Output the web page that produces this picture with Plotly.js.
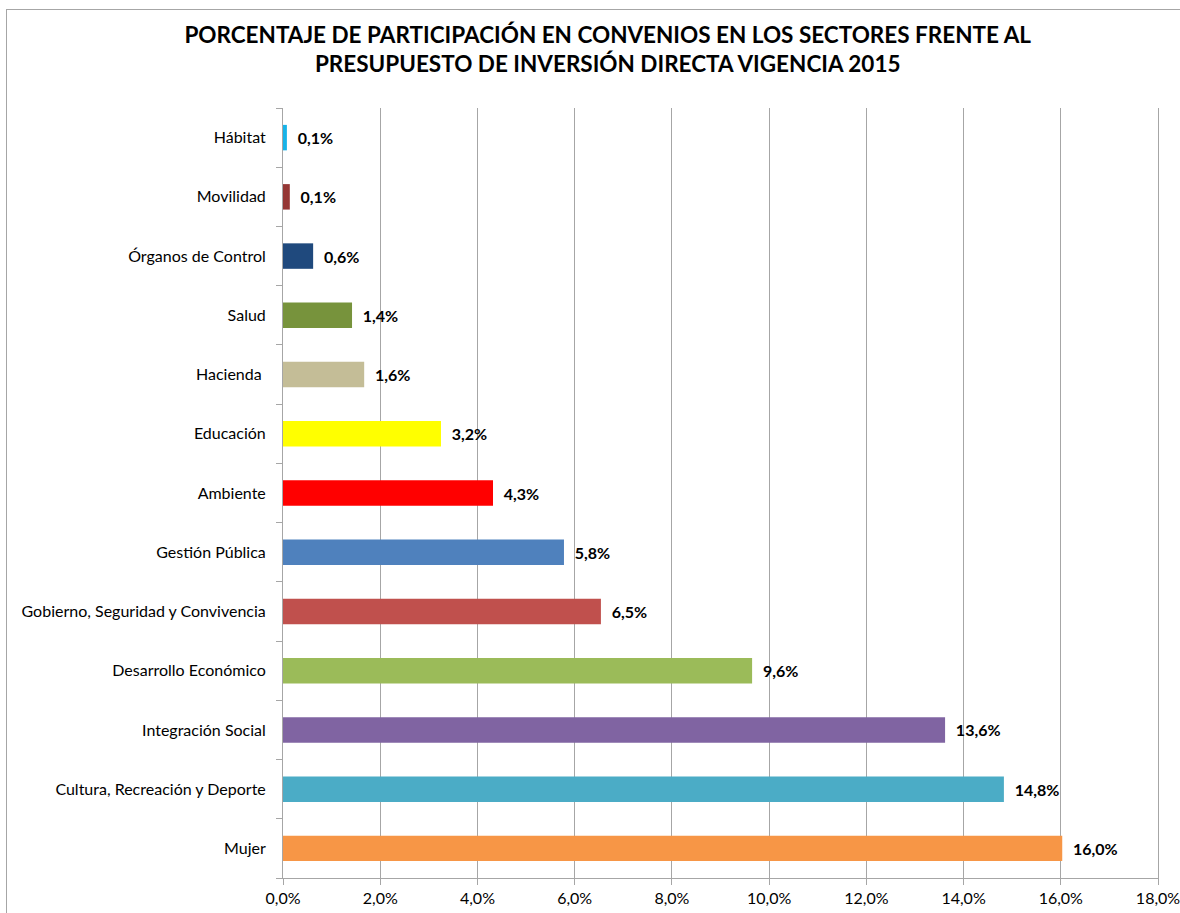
<!DOCTYPE html>
<html>
<head>
<meta charset="utf-8">
<script src="https://cdn.plot.ly/plotly-3.0.1.min.js"></script>
<style>
  body { margin: 0; background: #fff; }
  #frame { position: absolute; left: 6px; top: 9px; width: 1300px; height: 1000px;
           border-left: 1px solid #a6a6a6; border-top: 1px solid #a6a6a6; }
  #bar-chart { position: absolute; left: 0; top: 0; width: 1180px; height: 913px; }
</style>
</head>
<body>
<div id="frame"></div>
<div id="bar-chart"></div>
<script>
// sectors, bottom to top as drawn
let sectores = ['Mujer', 'Cultura, Recreación y Deporte', 'Integración Social', 'Desarrollo Económico',
  'Gobierno, Seguridad y Convivencia', 'Gestión Pública', 'Ambiente', 'Educación', 'Hacienda ',
  'Salud', 'Órganos de Control', 'Movilidad', 'Hábitat'];
let porcentajes = [16.03, 14.83, 13.62, 9.65, 6.54, 5.78, 4.32, 3.25, 1.67, 1.42, 0.62, 0.14, 0.08];
let etiquetas = ['16,0%', '14,8%', '13,6%', '9,6%', '6,5%', '5,8%', '4,3%', '3,2%', '1,6%',
  '1,4%', '0,6%', '0,1%', '0,1%'];
let colores = ['#F79646', '#4BACC6', '#8064A2', '#9BBB59', '#C0504D', '#4F81BD', '#FF0000',
  '#FFFF00', '#C4BD97', '#77933C', '#1F497D', '#953735', '#17B3E8'];

let fuente = 'Lato, "Open Sans", sans-serif';

let data = [{
  type: 'bar',
  orientation: 'h',
  x: porcentajes,
  y: sectores,
  marker: { color: colores },
  text: etiquetas.map(function(t){ return '\u00a0\u00a0' + t; }),
  textposition: 'outside',
  cliponaxis: false,
  textfont: { family: fuente, size: 16, color: '#000', weight: 'bold' },
  hoverinfo: 'none'
}];

let layout = {
  width: 1180,
  height: 913,
  margin: { l: 283, r: 22, t: 108, b: 35 },
  paper_bgcolor: 'rgba(0,0,0,0)',
  plot_bgcolor: 'rgba(0,0,0,0)',
  bargap: 0.57,
  showlegend: false,
  separators: ', ',
  title: {
    text: 'PORCENTAJE DE PARTICIPACIÓN EN CONVENIOS EN LOS SECTORES FRENTE AL<br>PRESUPUESTO DE INVERSIÓN DIRECTA VIGENCIA 2015',
    font: { family: fuente, size: 22.5, color: '#000', weight: 'bold' },
    xref: 'container', x: 0.515, xanchor: 'center',
    yref: 'container', y: 0.953, yanchor: 'middle'
  },
  xaxis: {
    range: [0, 18],
    dtick: 2,
    tickformat: '.1f',
    ticksuffix: '%',
    ticklabeloverflow: 'allow',
    showgrid: true,
    gridcolor: '#a6a6a6',
    gridwidth: 1,
    zeroline: false,
    showline: true,
    linecolor: '#a6a6a6',
    ticks: 'outside',
    ticklen: 6,
    tickcolor: '#a6a6a6',
    tickfont: { family: fuente, size: 16, color: '#000' }
  },
  yaxis: {
    showline: true,
    mirror: true,
    linecolor: '#a6a6a6',
    ticks: 'outside',
    tickson: 'boundaries',
    ticklen: 6,
    tickcolor: '#a6a6a6',
    ticklabelstandoff: 13,
    showgrid: false,
    tickfont: { family: fuente, size: 16, color: '#000' }
  }
};

Plotly.newPlot(document.getElementById('bar-chart'), data, layout, { displayModeBar: false, staticPlot: true });
</script>
</body>
</html>
